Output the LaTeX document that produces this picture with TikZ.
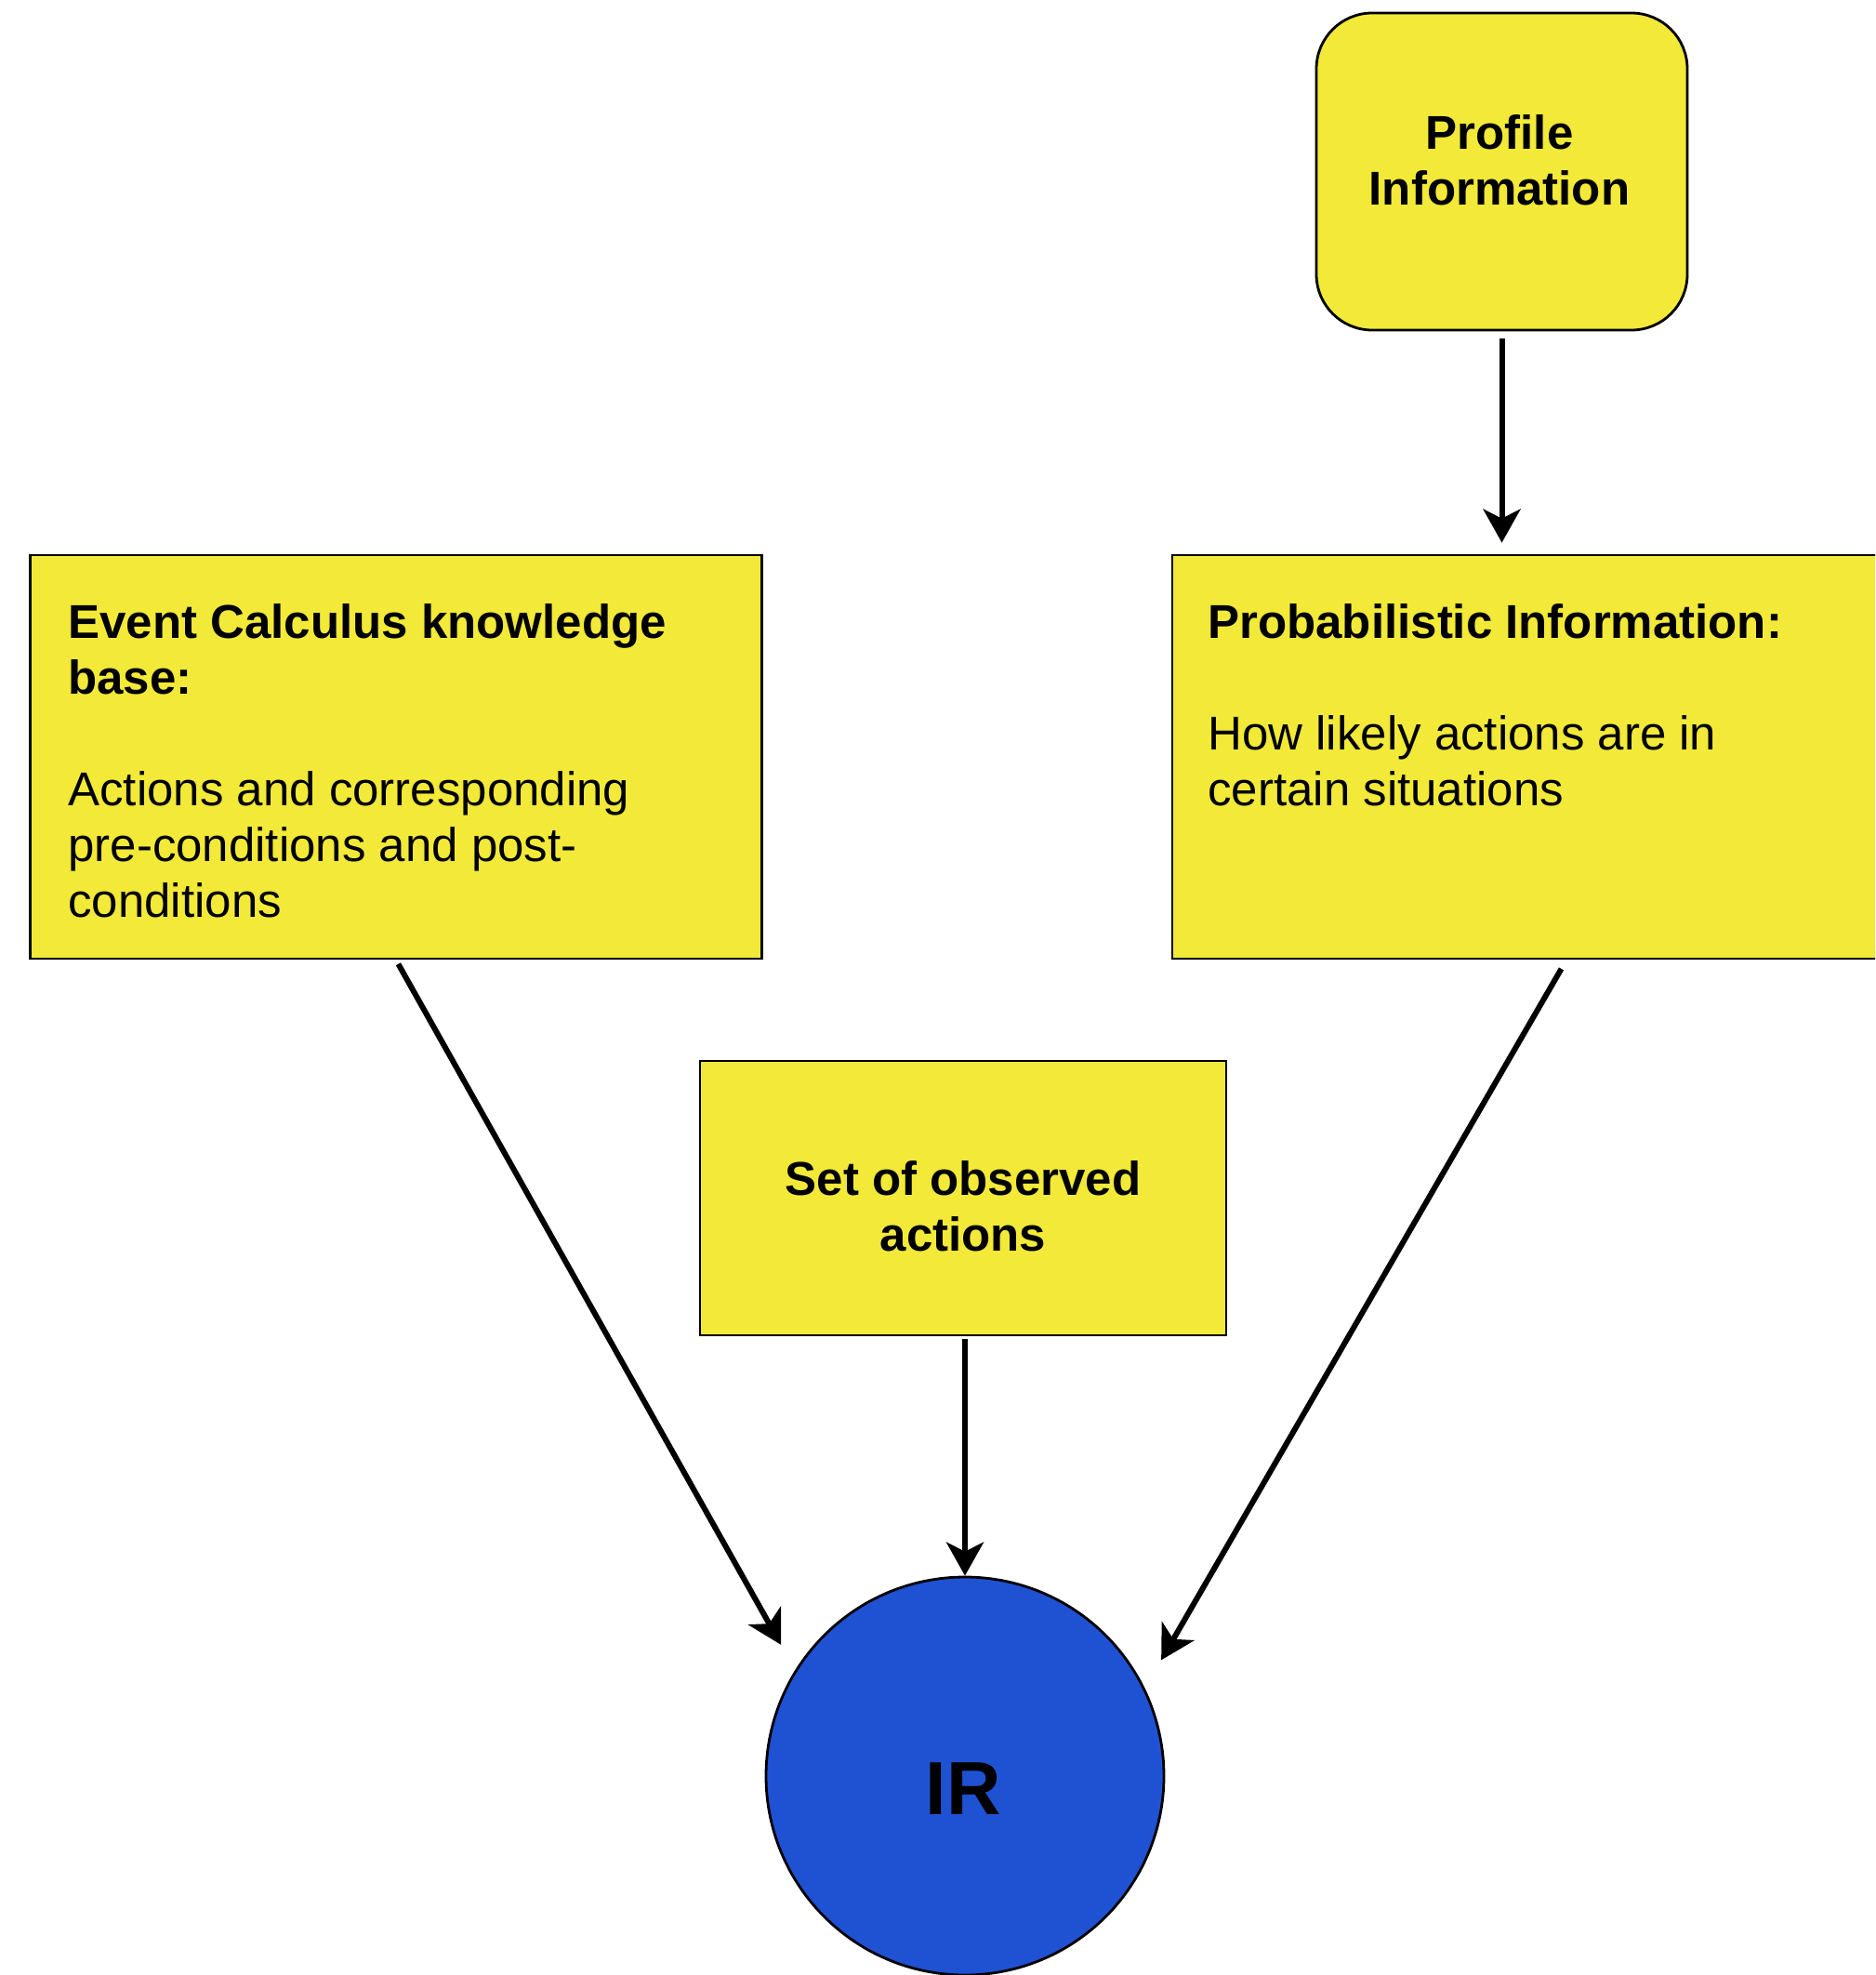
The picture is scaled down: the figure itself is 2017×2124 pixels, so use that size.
\documentclass[tikz,border=0pt]{standalone}
\usepackage{fontspec}
\setmainfont{Liberation Sans}
\usetikzlibrary{arrows.meta}
\definecolor{boxyellow}{HTML}{F2E938}
\definecolor{irblue}{HTML}{1F52D2}
\newcommand{\boxfont}{\fontsize{25.5pt}{30pt}\selectfont}
\begin{document}
\begin{tikzpicture}[x=0.5pt,y=-0.5pt,
  ybox/.style={draw=black, line width=1.4pt, fill=boxyellow, inner sep=0pt},
  txt/.style={inner sep=0pt, font=\boxfont},
  btxt/.style={inner sep=0pt, font=\boxfont\bfseries},
  conn/.style={draw=black, line width=3pt, -{Stealth[length=18pt,width=20pt,inset=5pt]}},
]
\useasboundingbox (0,0) rectangle (2017,2124);
\clip (0,0) rectangle (2017,2124);

% Profile
\node[ybox, rounded corners=30pt, minimum width=199.5pt, minimum height=170.5pt] (pf) at (1615.5,184.5) {};
\node[btxt, align=center] (pft) at (1613,172) {Profile\\Information};

% Event Calculus box
\node[ybox, minimum width=393.5pt, minimum height=217pt] (ev) at (426,814) {};
\node[txt, anchor=north west, align=left] (evt) at (73,649)
  {\textbf{Event Calculus knowledge}\\\textbf{base:}\\[30pt]Actions and corresponding\\pre-conditions and post-\\conditions};

% Probabilistic box
\node[ybox, minimum width=420pt, minimum height=217pt] (pr) at (1681,814) {};
\node[txt, anchor=north west, align=left] (prt) at (1299,649)
  {\textbf{Probabilistic Information:}\\[30pt]How likely actions are in\\certain situations};

% Set of observed actions
\node[ybox, minimum width=283pt, minimum height=147.5pt] (set) at (1036,1288.5) {};
\node[btxt, align=center] (sett) at (1036,1297.5) {Set of observed\\actions};

% IR
\node[circle, draw=black, line width=1.4pt, fill=irblue, minimum size=214pt, inner sep=0pt] (ir) at (1038,1910) {};
\node[inner sep=0pt, font=\fontsize{40.5pt}{48pt}\selectfont\bfseries] (irt) at (1036,1924) {IR};

% Connectors
\draw[conn, shorten <=4pt, shorten >=6pt] (pf.south) -- (pf.south |- pr.north);
\draw[conn, shorten <=2.5pt, shorten >=15.5pt] (ev.south) -- (ir.148);
\draw[conn, shorten <=5.5pt, shorten >=17.5pt] ([xshift=2pt]pr.south) -- (ir.26);
\draw[conn, shorten <=1.5pt] (ir.north |- set.south) -- (ir.north);
\end{tikzpicture}
\end{document}
